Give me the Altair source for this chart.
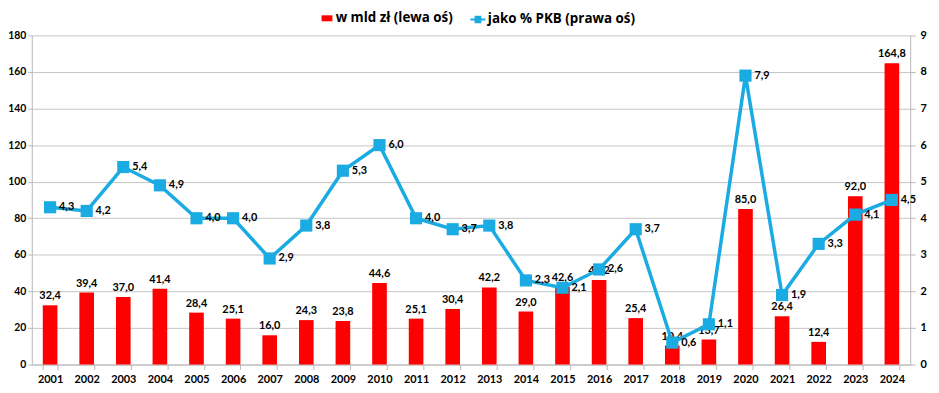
import altair as alt
import pandas as pd

years = [str(y) for y in range(2001, 2025)]
mld = [32.4, 39.4, 37.0, 41.4, 28.4, 25.1, 16.0, 24.3, 23.8, 44.6, 25.1, 30.4,
       42.2, 29.0, 42.6, 46.2, 25.4, 10.4, 13.7, 85.0, 26.4, 12.4, 92.0, 164.8]
pct = [4.3, 4.2, 5.4, 4.9, 4.0, 4.0, 2.9, 3.8, 5.3, 6.0, 4.0, 3.7,
       3.8, 2.3, 2.1, 2.6, 3.7, 0.6, 1.1, 7.9, 1.9, 3.3, 4.1, 4.5]
left_ticks = [0, 20, 40, 60, 80, 100, 120, 140, 160, 180]
right_ticks = [0, 1, 2, 3, 4, 5, 6, 7, 8, 9]
s_bar = "w mld zł (lewa oś)"
s_line = "jako % PKB (prawa oś)"

df = pd.DataFrame({"year": years, "mld": mld, "pct": pct,
                   "s1": [s_bar] * len(years), "s2": [s_line] * len(years)})

RED = "#ff0000"
BLUE = "#1aabe3"
FONT = "Lato"
LFONT = "Open Sans"
GRAY = "#b8b8b8"

base = alt.Chart(df).transform_calculate(
    mld_lbl="replace(format(datum.mld, '.1f'), '.', ',')",
    pct_lbl="replace(format(datum.pct, '.1f'), '.', ',')",
)

x_enc = alt.X("year:N", sort=years,
              scale=alt.Scale(paddingInner=0.6, paddingOuter=0.3),
              axis=alt.Axis(title=None, labelAngle=0, tickBand="extent",
                            labelFont=FONT, labelFontSize=11, labelFontWeight="bold",
                            labelColor="#000", labelPadding=4, tickSize=5,
                            domainColor=GRAY, tickColor=GRAY))

y_left = alt.Y("mld:Q", scale=alt.Scale(domain=[0, 180], nice=False),
               axis=alt.Axis(title=None, values=left_ticks, orient="left",
                             grid=True, gridColor="#c4c4c4", tickSize=4,
                             labelFont=FONT, labelFontSize=10.5, labelFontWeight="bold",
                             labelColor="#000", labelPadding=2,
                             domainColor=GRAY, tickColor=GRAY))

y_right = alt.Y("pct:Q", scale=alt.Scale(domain=[0, 9], nice=False),
                axis=alt.Axis(title=None, values=right_ticks, orient="right",
                              grid=False, tickSize=5,
                              labelFont=FONT, labelFontSize=11, labelFontWeight="bold",
                              labelColor="#000", labelPadding=5,
                              domainColor=GRAY, tickColor=GRAY))

bars = base.mark_bar().encode(
    x=x_enc, y=y_left,
    color=alt.Color("s1:N", scale=alt.Scale(domain=[s_bar], range=[RED]),
                    legend=alt.Legend(title=None, orient="none", legendX=291, legendY=-24,
                                      symbolType="M-1,-0.55H1V0.55H-1Z", symbolSize=120,
                                      symbolStrokeWidth=0,
                                      labelFont=LFONT, labelFontSize=13.5,
                                      labelFontWeight="bold", labelColor="#000",
                                      labelOffset=2)),
)
bar_text = base.mark_text(baseline="bottom", dy=-4, font=FONT, fontSize=11,
                          fontWeight="bold", color="#000").encode(
    x=x_enc, y=y_left, text="mld_lbl:N")

left = alt.layer(bars, bar_text)

line = base.mark_line(color=BLUE, strokeWidth=3.5).encode(x=x_enc, y=y_right)
pts = base.mark_point(shape="square", filled=True, size=150, opacity=1).encode(
    x=x_enc, y=y_right,
    color=alt.Color("s2:N", scale=alt.Scale(domain=[s_line], range=[BLUE]),
                    legend=alt.Legend(title=None, orient="none", legendX=442, legendY=-24,
                                      symbolType="M-1,-0.14H-0.45V-0.5H0.45V-0.14H1V0.14H0.45V0.5H-0.45V0.14H-1Z",
                                      symbolSize=230, symbolStrokeWidth=0,
                                      labelFont=LFONT, labelFontSize=13.5,
                                      labelFontWeight="bold", labelColor="#000",
                                      labelOffset=2)),
)
line_text = base.mark_text(align="left", baseline="middle", dx=9, font=FONT,
                           fontSize=11, fontWeight="bold", color="#000").encode(
    x=x_enc, y=y_right, text="pct_lbl:N")

right = alt.layer(line, pts, line_text)

chart = alt.layer(left, right).resolve_scale(
    y="independent", color="independent"
).resolve_legend(color="independent").properties(
    width=886, height=332,
    autosize=alt.AutoSizeParams(type="none"),
    padding={"left": 24, "top": 26, "right": 21, "bottom": 19},
).configure_view(stroke=None)

chart.save("out.html", embed_options={"renderer": "svg", "actions": False})
